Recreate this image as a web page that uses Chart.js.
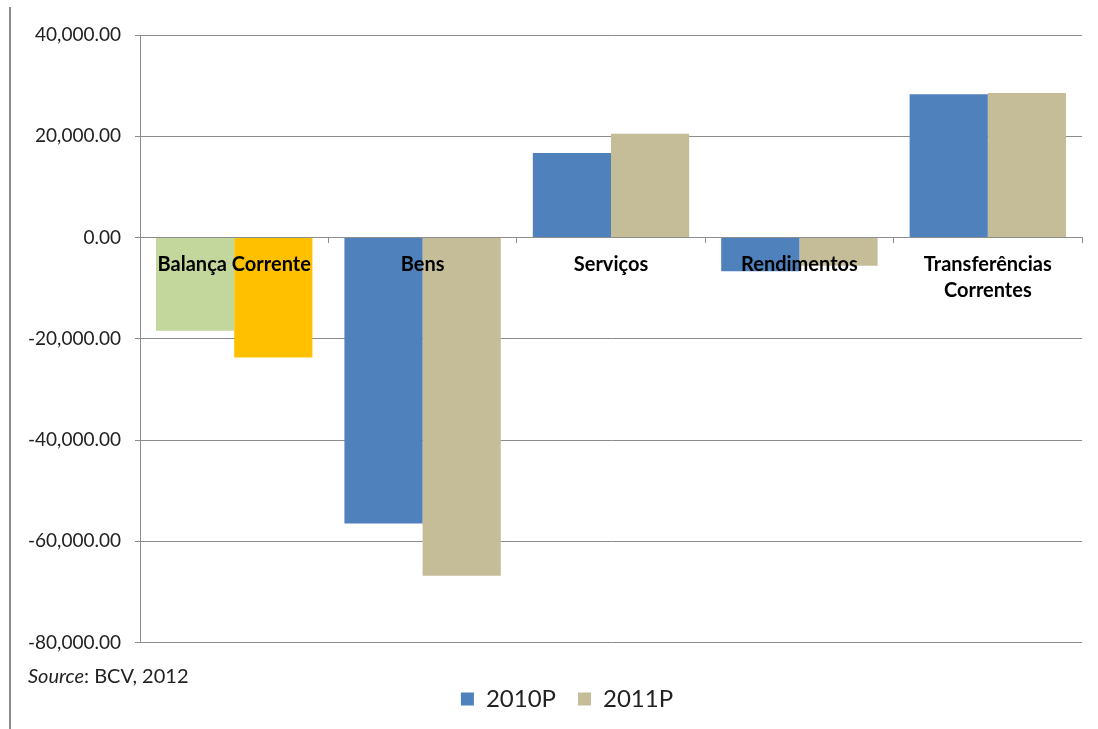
<!DOCTYPE html>
<html>
<head>
<meta charset="utf-8">
<script src="https://cdn.jsdelivr.net/npm/chart.js@4.4.1/dist/chart.umd.min.js"></script>
<style>
  body { margin: 0; background: #fff; }
  #wrap { width: 1098px; height: 729px; }
</style>
</head>
<body>
<div id="wrap"><canvas id="chart" width="1098" height="729"></canvas></div>
<script>
// categorias e valores
const categories = ['Balança Corrente', 'Bens', 'Serviços', 'Rendimentos', ['Transferências', 'Correntes']];
const values2010 = [-18400, -56500, 16700, -6650, 28300];
const values2011 = [-23700, -66800, 20500, -5550, 28550];
const seriesNames = ['2010P', '2011P'];
const yTicks = [40000, 20000, 0, -20000, -40000, -60000, -80000];

const BLUE = '#4F81BD';
const TAN = '#C4BD97';
const GREEN = '#C3D69B';
const ORANGE = '#FFC000';
const GRID = '#8c8c8c';
const FONT = 'Lato, "Open Sans", sans-serif';
const seriesColors = [BLUE, TAN];

const firstBar = (c) => c.type === 'data' && c.dataIndex === 0;

const sourcePlugin = {
    id: 'sourceNote',
    beforeDraw(chart) {
        // legenda um pouco mais à direita, como no original
        if (chart.legend && !chart.legend._shifted) {
            chart.legend.left += 21;
            chart.legend.right += 21;
            chart.legend._shifted = true;
        }
        const ctx = chart.ctx;
        ctx.save();
        ctx.fillStyle = '#8a8a8a';
        ctx.fillRect(9, 7, 2, 722);
        ctx.restore();
    },
    afterDraw(chart) {
        const ctx = chart.ctx;
        ctx.save();
        ctx.fillStyle = '#222';
        ctx.textBaseline = 'middle';
        ctx.font = 'italic 20px ' + FONT;
        ctx.fillText('Source', 28, 677);
        const w = ctx.measureText('Source').width;
        ctx.font = '20px ' + FONT;
        ctx.fillText(': BCV, 2012', 28 + w, 677);
        ctx.restore();
    }
};

const ctx = document.getElementById('chart').getContext('2d');
new Chart(ctx, {
    type: 'bar',
    data: {
        labels: categories,
        datasets: [
            {
                label: seriesNames[0],
                data: values2010,
                backgroundColor: (c) => firstBar(c) ? GREEN : BLUE
            },
            {
                label: seriesNames[1],
                data: values2011,
                backgroundColor: (c) => firstBar(c) ? ORANGE : TAN
            }
        ]
    },
    options: {
        responsive: false,
        animation: false,
        layout: { padding: { top: 35, left: 10, right: 16, bottom: 8 } },
        datasets: {
            bar: { categoryPercentage: 0.83, barPercentage: 1.0 }
        },
        plugins: {
            tooltip: { enabled: false },
            legend: {
                position: 'bottom',
                title: { display: true, text: '', padding: { top: 0, bottom: 8 } },
                labels: {
                    font: { family: FONT, size: 24 },
                    color: '#222',
                    boxWidth: 13,
                    boxHeight: 13,
                    padding: 22,
                    generateLabels: (chart) => {
                        const items = Chart.defaults.plugins.legend.labels.generateLabels(chart);
                        items.forEach((it, i) => {
                            it.fillStyle = seriesColors[i];
                            it.strokeStyle = seriesColors[i];
                            it.lineWidth = 0;
                        });
                        return items;
                    }
                }
            }
        },
        scales: {
            x: {
                type: 'category',
                position: { y: 0 },
                grid: { offset: true, drawOnChartArea: false, color: GRID, tickLength: 5 },
                border: { color: GRID },
                ticks: {
                    z: 1,
                    autoSkip: false,
                    maxRotation: 0,
                    padding: 9,
                    color: '#000',
                    font: { family: FONT, size: 20, weight: 'bold', lineHeight: 1.3 }
                }
            },
            y: {
                min: Math.min(...yTicks),
                max: Math.max(...yTicks),
                afterFit: (s) => { s.width = 130; },
                afterBuildTicks: (s) => { s.ticks = yTicks.map(v => ({ value: v })); },
                grid: { color: GRID, tickLength: 5 },
                border: { color: GRID },
                ticks: {
                    padding: 14,
                    color: '#222',
                    font: { family: FONT, size: 19 },
                    callback: (v) => Number(v).toLocaleString('en-US', { minimumFractionDigits: 2, maximumFractionDigits: 2 })
                }
            }
        }
    },
    plugins: [sourcePlugin]
});
</script>
</body>
</html>
